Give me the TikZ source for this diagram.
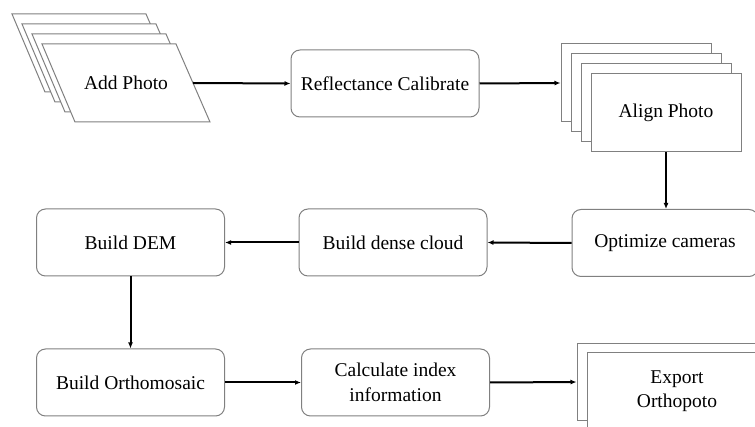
\documentclass[tikz,border=0pt]{standalone}
\usepackage{fontspec}
\setmainfont{Liberation Serif}
\usetikzlibrary{arrows.meta}

\begin{document}
\begin{tikzpicture}[x=1pt,y=-1pt,
    every node/.style={font=\fontsize{19.5}{24.5}\selectfont, text=black},
    procbox/.style={draw=black!50, line width=1pt, rounded corners=9pt, fill=white,
        minimum width=188pt, minimum height=67pt, inner sep=0pt, align=center},
    sheet/.style={draw=black!50, line width=1pt, fill=white, inner sep=0pt, align=center},
    flow/.style={line width=2pt, -{Latex[length=6pt,width=5pt]}}]

\clip (0,0) rectangle (755,427);

% Add Photo: stack of slanted sheets, back to front
\foreach \k in {3,2,1,0} {
    \draw[draw=black!50, line width=1pt, fill=white, shift={(-10*\k,-10*\k)}]
        (42,44) -- (176,44) -- (210,122) -- (75,122) -- cycle;
}
\node (add) at (126,83) {Add Photo};
\coordinate (addout) at (193,83);

% Align Photo: stack of sheets
\foreach \k in {3,2,1} {
    \node[sheet, minimum width=150pt, minimum height=78pt] (align\k) at (666-10*\k,113-10*\k) {};
}
\node[sheet, minimum width=150pt, minimum height=78pt] (align) at (666,113) {Align Photo};

% Export: two sheets running off the page
\node[sheet, minimum width=180pt, minimum height=76pt] (exportback) at (667,382) {};
\node[sheet, minimum width=180pt, minimum height=76pt] (export) at (677,391) {Export\\Orthopoto};

% Processing steps
\node[procbox] (refl) at (385,83.5) {Reflectance Calibrate};
\node[procbox, minimum width=186pt] (opt) at (665,243) {Optimize cameras};
\node[procbox] (dense) at (393,242.5) {Build dense cloud};
\node[procbox] (dem) at (130.5,242.5) {Build DEM};
\node[procbox] (ortho) at (130.5,382.5) {Build Orthomosaic};
\node[procbox] (calc) at (395.5,382.5) {Calculate index\\information};

% Connectors
\draw[flow] (addout) -- (refl.west);
\draw[flow] (refl.east) -- (align3.west);
\draw[flow] (align.south) -- (align.south |- opt.north);
\draw[flow] (opt.west) -- (dense.east);
\draw[flow] (dense.west) -- (dem.east);
\draw[flow] (dem.south) -- (ortho.north);
\draw[flow] (ortho.east) -- (calc.west);
\draw[flow] (calc.east) -- (exportback.west);

\end{tikzpicture}
\end{document}
